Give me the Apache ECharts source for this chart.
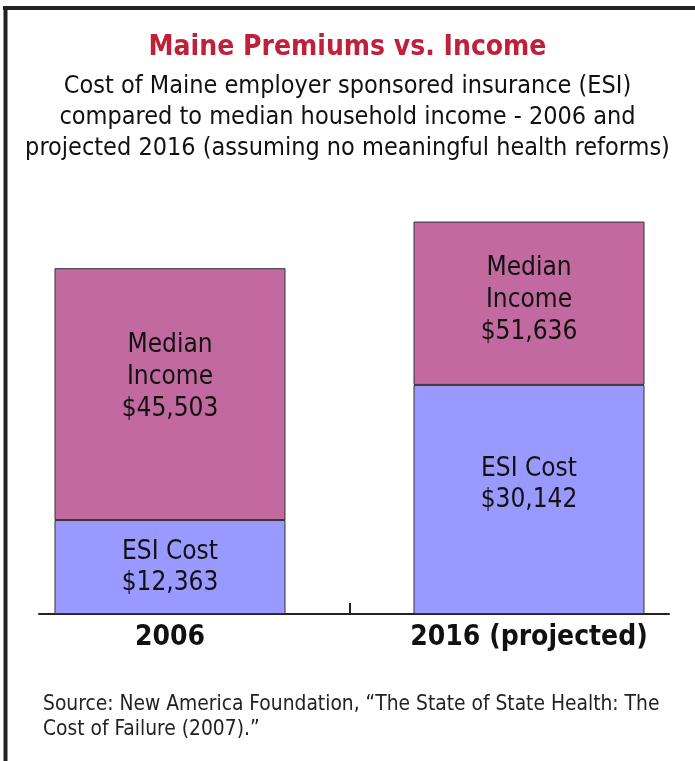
<!DOCTYPE html>
<html>
<head>
    <meta charset="utf-8">
    <title>Maine Premiums vs. Income</title>
    <script src="https://cdn.jsdelivr.net/npm/echarts@6.0.0/dist/echarts.min.js"></script>
    <style>
        html, body { margin: 0; padding: 0; background: #fff; }
        #chart { width: 695px; height: 761px; }
    </style>
</head>
<body>
<div id="chart"></div>
<script>
    // data
    var years = ['2006', '2016 (projected)'];
    var esiCost = [12363, 30142];
    var medianIncome = [45503, 51636];

    var FONT = '"Liberation Sans Narrow", "DejaVu Sans Condensed", "Liberation Sans", sans-serif';

    function money(v) {
        return '$' + v.toLocaleString('en-US');
    }

    // bar top = median income, ESI cost is the lower part of it
    var restOfIncome = medianIncome.map(function (v, i) { return v - esiCost[i]; });

    // labels are not quite centred in the original
    var esiOffsets = [[0, 1], [0, -15]];
    var incomeOffsets = [[0, -17], [0, -3]];

    var chart = echarts.init(document.getElementById('chart'));

    var option = {
        animation: false,
        title: [{
            text: 'Maine Premiums vs. Income',
            left: 'center',
            top: 29,
            textStyle: { fontFamily: FONT, fontSize: 28, fontWeight: 'bold', color: '#c1203b' },
            subtext: 'Cost of Maine employer sponsored insurance (ESI)\ncompared to median household income - 2006 and\nprojected 2016 (assuming no meaningful health reforms)',
            itemGap: 9,
            subtextStyle: { fontFamily: FONT, fontSize: 25, color: '#111', lineHeight: 31, align: 'center' }
        }, {
            text: 'Source: New America Foundation, \u201cThe State of State Health: The\nCost of Failure (2007).\u201d',
            left: 38,
            top: 687,
            textStyle: { fontFamily: FONT, fontSize: 20.8, fontWeight: 'normal', color: '#222', lineHeight: 25 }
        }],
        graphic: [
            { type: 'line', shape: { x1: 3, y1: 8, x2: 695, y2: 8 }, style: { stroke: '#222', lineWidth: 4 } },
            { type: 'line', shape: { x1: 5.5, y1: 6, x2: 5.5, y2: 761 }, style: { stroke: '#222', lineWidth: 4 } }
        ],
        grid: [
            // bars: category centres sit at the two ends of this grid
            { left: 170, right: 166, top: 158, bottom: 147 },
            // visible base line with the tick between the bars
            { left: 39, right: 26, top: 158, bottom: 147 }
        ],
        xAxis: [{
            type: 'category',
            gridIndex: 0,
            data: years,
            boundaryGap: false,
            show: false
        }, {
            type: 'value',
            gridIndex: 1,
            min: -0.365,
            max: 1.39,
            splitLine: { show: false },
            axisLine: { show: true, lineStyle: { color: '#222', width: 2 } },
            axisTick: {
                show: true,
                customValues: [0.5],
                inside: true,
                length: 11,
                lineStyle: { color: '#222', width: 2 }
            },
            axisLabel: {
                customValues: [0, 1],
                formatter: function (v) { return years[Math.round(v)]; },
                margin: 10,
                fontFamily: FONT,
                fontSize: 28,
                fontWeight: 'bold',
                color: '#111'
            }
        }],
        yAxis: [
            { type: 'value', gridIndex: 0, min: 0, max: 60000, show: false },
            { type: 'value', gridIndex: 1, min: 0, max: 60000, show: false }
        ],
        series: [{
            name: 'ESI Cost',
            type: 'bar',
            stack: 'total',
            barWidth: 231,
            itemStyle: { color: '#9999ff', borderColor: '#333', borderWidth: 1 },
            label: {
                show: true,
                position: 'inside',
                fontFamily: FONT,
                fontSize: 26,
                lineHeight: 31,
                color: '#111',
                formatter: function (p) { return 'ESI Cost\n' + money(esiCost[p.dataIndex]); }
            },
            data: esiCost.map(function (v, i) {
                return { value: v, label: { offset: esiOffsets[i] } };
            })
        }, {
            name: 'Median Income',
            type: 'bar',
            stack: 'total',
            barWidth: 231,
            itemStyle: { color: '#c26aa0', borderColor: '#333', borderWidth: 1 },
            label: {
                show: true,
                position: 'inside',
                fontFamily: FONT,
                fontSize: 26,
                lineHeight: 32,
                color: '#111',
                formatter: function (p) { return 'Median\nIncome\n' + money(medianIncome[p.dataIndex]); }
            },
            data: restOfIncome.map(function (v, i) {
                return { value: v, label: { offset: incomeOffsets[i] } };
            })
        }]
    };

    chart.setOption(option);
</script>
</body>
</html>
